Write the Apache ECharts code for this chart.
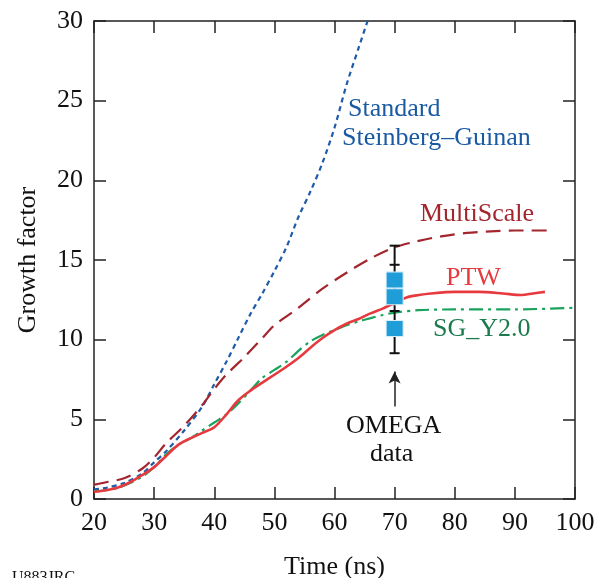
<!DOCTYPE html>
<html>
<head>
<meta charset="utf-8">
<script src="https://cdn.jsdelivr.net/npm/echarts@6/dist/echarts.min.js"></script>
<style>html,body{margin:0;padding:0;background:#fff;}#c{width:597px;height:578px;}</style>
</head>
<body>
<div id="c"></div>
<script>
// ---- data ----
const standardSG = [[20,0.6],[22,0.7],[25,1.0],[28,1.6],[30,2.3],[32,3.0],[35,4.3],[38,5.8],[40,7.2],[42,8.6],[44,10.1],[46,11.6],[48,12.9],[50,14.3],[52,15.8],[54,17.7],[56,19.3],[58,21.1],[60,23.3],[62,26.0],[64,28.3],[65.5,30]];
const multiScale = [[20,0.9],[22,1.05],[25,1.3],[28,1.9],[30,2.6],[32,3.5],[35,4.6],[38,5.9],[40,6.9],[42,7.8],[45,8.9],[48,10.1],[50,10.9],[54,12.0],[58,13.2],[62,14.2],[66,15.1],[70,15.8],[74,16.2],[78,16.5],[82,16.7],[86,16.8],[90,16.85],[95.5,16.85]];
const ptw = [[20,0.45],[22,0.55],[24,0.72],[26,1.05],[28,1.5],[30,2.0],[32,2.7],[34,3.4],[36,3.8],[38,4.15],[40,4.5],[42,5.3],[44,6.2],[46,6.8],[48,7.3],[50,7.8],[52,8.3],[54,8.85],[56,9.5],[58,10.1],[60,10.6],[62,11.0],[64,11.3],[66,11.65],[68,11.95],[70,12.3],[72,12.65],[74,12.8],[76,12.9],[80,13.0],[84,13.0],[88,12.9],[91,12.8],[93,12.9],[95,13.0]];
const sgY2 = [[20,0.5],[22,0.55],[24,0.7],[26,1.0],[28,1.4],[30,2.0],[32,2.8],[34,3.4],[36,3.8],[38,4.3],[40,4.8],[42,5.3],[44,6.0],[46,6.8],[48,7.6],[50,8.1],[52,8.6],[54,9.3],[56,9.9],[58,10.3],[60,10.6],[62,10.9],[64,11.15],[66,11.35],[68,11.55],[70,11.7],[74,11.85],[80,11.9],[90,11.9],[100,12.0]];
const omegaX = 70;
const omegaValues = [13.75, 12.7, 10.7];
const omegaErrLow = 9.15;
const omegaErrHigh = 15.9;
const omegaInnerTicks = [14.7, 11.8];
const arrowFrom = 5.8;
const arrowTo = 8.0;
const xTicks = [20,30,40,50,60,70,80,90,100];
const yTicks = [0,5,10,15,20,25,30];

const FONT = '"Liberation Serif","DejaVu Serif",serif';
const chart = echarts.init(document.getElementById('c'), null, {renderer:'canvas'});

const axisCommon = {
  axisLine:{show:true, onZero:false, lineStyle:{color:'#222', width:1.5}},
  axisTick:{show:true, inside:true, length:12, lineStyle:{color:'#222', width:1.5}},
  splitLine:{show:false}
};

const option = {
  animation:false,
  backgroundColor:'#fff',
  grid:{left:94, right:22, top:21, bottom:79, containLabel:false, outerBoundsMode:'none'},
  xAxis:[
    Object.assign({type:'value', min:20, max:100, interval:10, position:'bottom',
      name:'Time (ns)', nameLocation:'middle', nameGap:55,
      nameTextStyle:{fontFamily:FONT, fontSize:26, color:'#111'},
      axisLabel:{fontFamily:FONT, fontSize:26, color:'#111', margin:11,
        formatter:v=>xTicks.includes(v)?String(v):''}}, axisCommon),
    Object.assign({type:'value', min:20, max:100, interval:10, position:'top',
      axisLabel:{show:false}}, axisCommon)
  ],
  yAxis:[
    Object.assign({type:'value', min:0, max:30, interval:5, position:'left',
      name:'Growth factor', nameLocation:'middle', nameGap:53,
      nameTextStyle:{fontFamily:FONT, fontSize:26, color:'#111'},
      axisLabel:{fontFamily:FONT, fontSize:26, color:'#111', margin:11,
        formatter:v=>yTicks.includes(v)?String(v):''}}, axisCommon),
    Object.assign({type:'value', min:0, max:30, interval:5, position:'right',
      axisLabel:{show:false}}, axisCommon)
  ],
  series:[
    {name:'Standard Steinberg–Guinan', type:'line', data:standardSG, symbol:'none', smooth:0.3, clip:true,
      lineStyle:{color:'#1f5ca8', width:2.2, type:[5,4]}},
    {name:'MultiScale', type:'line', data:multiScale, symbol:'none', smooth:0.3,
      lineStyle:{color:'#a3262e', width:2.2, type:[15,8]}},
    {name:'SG_Y2.0', type:'line', data:sgY2, symbol:'none', smooth:0.3,
      lineStyle:{color:'#19a35c', width:2.2, type:[14,5,3,5]}},
    {name:'PTW', type:'line', data:ptw, symbol:'none', smooth:0.3,
      lineStyle:{color:'#e63a3f', width:2.6}},
    {name:'err', type:'custom', z:4,
      data:[[omegaX, omegaErrLow, omegaErrHigh]],
      renderItem:function(params, api){
        const x = api.value(0);
        const lo = api.coord([x, api.value(1)]);
        const hi = api.coord([x, api.value(2)]);
        const children = [
          {type:'line', shape:{x1:lo[0], y1:lo[1], x2:hi[0], y2:hi[1]}, style:{stroke:'#111', lineWidth:2}},
          {type:'line', shape:{x1:lo[0]-5, y1:lo[1], x2:lo[0]+5, y2:lo[1]}, style:{stroke:'#111', lineWidth:2}},
          {type:'line', shape:{x1:hi[0]-5, y1:hi[1], x2:hi[0]+5, y2:hi[1]}, style:{stroke:'#111', lineWidth:2}}
        ];
        omegaInnerTicks.forEach(t=>{
          const p = api.coord([x, t]);
          children.push({type:'line', shape:{x1:p[0]-5, y1:p[1], x2:p[0]+5, y2:p[1]}, style:{stroke:'#111', lineWidth:2}});
        });
        return {type:'group', children:children};
      }},
    {name:'OMEGA data', type:'scatter', z:5,
      data:omegaValues.map(v=>[omegaX, v]), symbol:'rect', symbolSize:[17,16],
      itemStyle:{color:'#1f9dd9', borderColor:'#d8eef9', borderWidth:1, opacity:1}},
    {name:'arrow', type:'line', data:[], symbol:'none',
      markLine:{silent:true, symbol:['none','arrow'], symbolSize:[9,12],
        label:{show:false},
        lineStyle:{color:'#222', width:1.5, type:'solid'},
        data:[[{coord:[omegaX, arrowFrom]},{coord:[omegaX, arrowTo]}]]}}
  ],
  graphic:[
    {type:'text', left:348, top:96, style:{text:'Standard', font:'26px '+FONT, fill:'#1a5aa3'}},
    {type:'text', left:342, top:125, style:{text:'Steinberg–Guinan', font:'26px '+FONT, fill:'#1a5aa3'}},
    {type:'text', left:420, top:201, style:{text:'MultiScale', font:'26px '+FONT, fill:'#a3262e'}},
    {type:'text', left:446, top:265, style:{text:'PTW', font:'26px '+FONT, fill:'#e63a3f'}},
    {type:'text', left:433, top:316, style:{text:'SG_Y2.0', font:'26px '+FONT, fill:'#1a7a4c'}},
    {type:'text', left:346, top:413, style:{text:'OMEGA', font:'26px '+FONT, fill:'#111'}},
    {type:'text', left:370, top:441, style:{text:'data', font:'26px '+FONT, fill:'#111'}},
    {type:'text', left:12, top:570, style:{text:'U883JRC', font:'16px '+FONT, fill:'#111'}}
  ]
};
chart.setOption(option);
</script>
</body>
</html>
